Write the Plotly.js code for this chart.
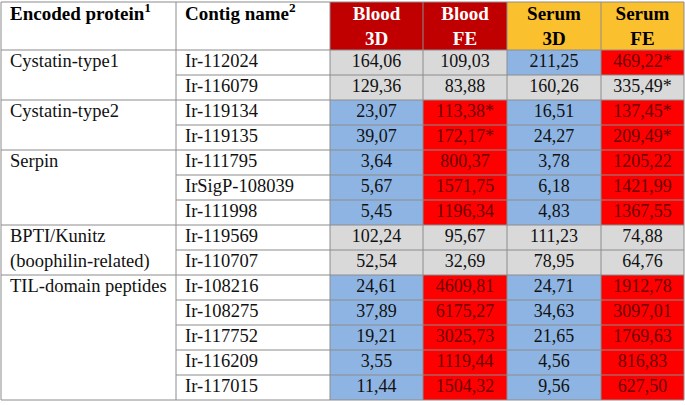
<!DOCTYPE html>
<html><head><meta charset="utf-8">
<script src="https://cdn.plot.ly/plotly-3.0.1.min.js"></script>
<style>html,body{margin:0;padding:0;background:#fff}#chart{width:685px;height:405px}</style>
</head><body><div id="chart"></div>
<script>
// ---------- data ----------
const headerLabels = [["Encoded protein<sup>1</sup>"], ["Contig name<sup>2</sup>"], ["Blood", "3D"], ["Blood", "FE"], ["Serum", "3D"], ["Serum", "FE"]];
const groups = [["Cystatin-type1"], ["Cystatin-type2"], ["Serpin"], ["BPTI/Kunitz", "(boophilin-related)"], ["TIL-domain peptides"]];
const groupSizes = [2, 2, 3, 2, 5];
const contigs = ["Ir-112024", "Ir-116079", "Ir-119134", "Ir-119135", "Ir-111795", "IrSigP-108039", "Ir-111998",
  "Ir-119569", "Ir-110707", "Ir-108216", "Ir-108275", "Ir-117752", "Ir-116209", "Ir-117015"];
const blood3D = [164.06, 129.36, 23.07, 39.07, 3.64, 5.67, 5.45, 102.24, 52.54, 24.61, 37.89, 19.21, 3.55, 11.44];
const bloodFE = [109.03, 83.88, 113.38, 172.17, 800.37, 1571.75, 1196.34, 95.67, 32.69, 4609.81, 6175.27, 3025.73, 1119.44, 1504.32];
const serum3D = [211.25, 160.26, 16.51, 24.27, 3.78, 6.18, 4.83, 111.23, 78.95, 24.71, 34.63, 21.65, 4.56, 9.56];
const serumFE = [469.22, 335.49, 137.45, 209.49, 1205.22, 1421.99, 1367.55, 74.88, 64.76, 1912.78, 3097.01, 1769.63, 816.83, 627.50];
// significance asterisks
const blood3Dsig = [0,0,0,0,0,0,0,0,0,0,0,0,0,0];
const bloodFEsig = [0,0,1,1,0,0,0,0,0,0,0,0,0,0];
const serum3Dsig = [0,0,0,0,0,0,0,0,0,0,0,0,0,0];
const serumFEsig = [1,1,1,1,0,0,0,0,0,0,0,0,0,0];
// expression class: d = down, u = up, n = not changed
const blood3Dclass = ["n","n","d","d","d","d","d","n","n","d","d","d","d","d"];
const bloodFEclass = ["n","n","u","u","u","u","u","n","n","u","u","u","u","u"];
const serum3Dclass = ["d","n","d","d","d","d","d","n","n","d","d","d","d","d"];
const serumFEclass = ["u","n","u","u","u","u","u","n","n","u","u","u","u","u"];

// ---------- style / layout ----------
const colEdges = [0, 175, 329, 422, 506, 600, 683];
const headerH = 48, rowH = 25, pad = 9;
const FONT = "Liberation Serif, Times New Roman, serif";
const gridColor = "#8c8c8c";
// colour codes: 0 white, 1 header red, 2 header yellow, 3 blue, 4 grey, 5 red
const palette = ["#ffffff", "#c00000", "#fbc02d", "#8db4e2", "#d9d9d9", "#ff0000"];
const headerCodes = [0, 0, 1, 1, 2, 2];
const headerTextColors = ["#000", "#000", "#fff", "#fff", "#000", "#000"];
const classCode = {d: 3, n: 4, u: 5};
const classText = {d: "#111", n: "#111", u: "#6a0000"};

const valueCols = [blood3D, bloodFE, serum3D, serumFE];
const sigCols = [blood3Dsig, bloodFEsig, serum3Dsig, serumFEsig];
const classCols = [blood3Dclass, bloodFEclass, serum3Dclass, serumFEclass];
const nRows = contigs.length;
const fmt = (v, s) => v.toFixed(2).replace(".", ",") + (s ? "*" : "");

const rowEdges = [0, headerH];
for (let r = 0; r < nRows; r++) rowEdges.push(headerH + rowH * (r + 1));
const rowCenter = r => (rowEdges[r + 1] + rowEdges[r + 2]) / 2;
const colCenter = c => (colEdges[c] + colEdges[c + 1]) / 2;

// heatmap fills
const z = [headerCodes.slice()];
for (let r = 0; r < nRows; r++) {
  z.push([0, 0].concat(classCols.map(cl => classCode[cl[r]])));
}
const n = palette.length;
const colorscale = [];
palette.forEach((c, i) => { colorscale.push([i / n, c]); colorscale.push([(i + 1) / n, c]); });

const traces = [{
  type: "heatmap", x: colEdges, y: rowEdges, z: z, zmin: -0.5, zmax: n - 0.5,
  colorscale: colorscale, showscale: false, hoverinfo: "skip"
}];

// grid lines
const groupStart = new Set();
let acc = 0;
groupSizes.forEach(s => { groupStart.add(acc); acc += s; });
const gx = [], gy = [];
colEdges.forEach(x => { gx.push(x, x, null); gy.push(rowEdges[0], rowEdges[rowEdges.length - 1], null); });
rowEdges.forEach((y, i) => {
  const r = i - 1;
  const full = i <= 1 || i === rowEdges.length - 1 || groupStart.has(r);
  gx.push(full ? colEdges[0] : colEdges[1], colEdges[colEdges.length - 1], null);
  gy.push(y, y, null);
});
traces.push({type: "scatter", mode: "lines", x: gx, y: gy, line: {color: gridColor, width: 1}, hoverinfo: "skip"});

// header text
const hx = [], hy = [], ht = [], hc = [], hp = [];
headerLabels.forEach((lines, c) => {
  lines.forEach((t, k) => {
    const left = c < 2;
    hx.push(left ? colEdges[c] + pad : colCenter(c));
    hy.push(13 + k * 25);
    ht.push(t); hc.push(headerTextColors[c]);
    hp.push(left ? "middle right" : "middle center");
  });
});
traces.push({type: "scatter", mode: "text", x: hx, y: hy, text: ht, textposition: hp,
  textfont: {family: FONT, size: 19, color: hc, weight: "bold"}, hoverinfo: "skip", cliponaxis: false});

// label text (first two columns)
const lx = [], ly = [], lt = [];
let start = 0;
groups.forEach((lines, g) => {
  lines.forEach((t, k) => { lx.push(colEdges[0] + pad); ly.push(rowCenter(start + k)); lt.push(t); });
  start += groupSizes[g];
});
contigs.forEach((t, r) => { lx.push(colEdges[1] + pad); ly.push(rowCenter(r)); lt.push(t); });
traces.push({type: "scatter", mode: "text", x: lx, y: ly, text: lt, textposition: "middle right",
  textfont: {family: FONT, size: 18.5, color: "#111"}, hoverinfo: "skip", cliponaxis: false});

// value text
const bx = [], by = [], bt = [], bc = [];
valueCols.forEach((vals, j) => {
  vals.forEach((v, r) => {
    bx.push(colCenter(j + 2)); by.push(rowCenter(r)); bt.push(fmt(v, sigCols[j][r]));
    bc.push(classText[classCols[j][r]]);
  });
});
traces.push({type: "scatter", mode: "text", x: bx, y: by, text: bt, textposition: "middle center",
  textfont: {family: FONT, size: 18, color: bc}, hoverinfo: "skip", cliponaxis: false});

const layout = {
  width: 685, height: 405, margin: {l: 0, r: 0, t: 0, b: 0},
  paper_bgcolor: "#fff", plot_bgcolor: "#fff", showlegend: false,
  font: {family: FONT},
  xaxis: {range: [-1, 684], visible: false, fixedrange: true},
  yaxis: {range: [403, -2], visible: false, fixedrange: true}
};
Plotly.newPlot("chart", traces, layout, {staticPlot: true, displayModeBar: false});
</script></body></html>
